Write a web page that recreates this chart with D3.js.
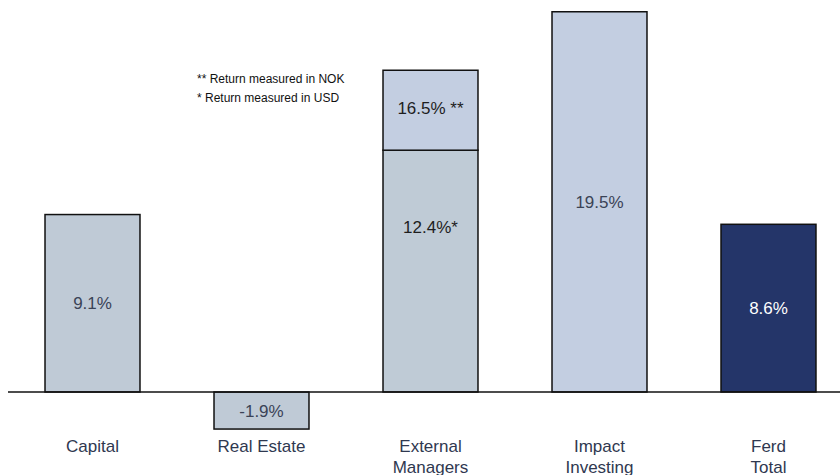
<!DOCTYPE html>
<html>
<head>
<meta charset="utf-8">
<script src="https://cdn.jsdelivr.net/npm/d3@7/dist/d3.min.js"></script>
<style>
html,body{margin:0;padding:0;background:#fff;}
svg{display:block;font-family:"Liberation Sans",Arial,sans-serif;}
</style>
</head>
<body>
<svg id="chart" width="840" height="475"></svg>
<script>
const categories = ["Capital", "Real Estate", "External Managers", "Impact Investing", "Ferd Total"];
const categoryLines = [["Capital"], ["Real Estate"], ["External", "Managers"], ["Impact", "Investing"], ["Ferd", "Total"]];
const returns = [9.1, -1.9, 12.4, 19.5, 8.6];
const valueLabels = ["9.1%", "-1.9%", "12.4%*", "19.5%", "8.6%"];
const nokExtra = { category: "External Managers", from: 12.4, to: 16.5, label: "16.5% **" };
const notes = ["** Return measured in NOK", "* Return measured in USD"];

const barFill = ["#bfcad6", "#bfcad6", "#bfcbd6", "#c3cee1", "#243569"];
const labelFill = ["#3a4356", "#3a4356", "#1e1e1e", "#3a4356", "#ffffff"];

const svg = d3.select("#chart");
const x = d3.scaleBand().domain(categories).range([8, 853]).paddingInner(0.438).paddingOuter(0.219);
const y = d3.scaleLinear().domain([0, 20]).range([392, 2]);

const data = categories.map((c, i) => ({ c, v: returns[i], label: valueLabels[i], fill: barFill[i], lf: labelFill[i] }));

// bars
svg.selectAll("rect.bar").data(data).enter().append("rect")
  .attr("class", "bar")
  .attr("x", d => x(d.c))
  .attr("width", x.bandwidth())
  .attr("y", d => y(Math.max(0, d.v)))
  .attr("height", d => Math.abs(y(d.v) - y(0)))
  .attr("fill", d => d.fill)
  .attr("stroke", "#111")
  .attr("stroke-width", 1.5);

// NOK segment on top of External Managers
svg.append("rect")
  .attr("x", x(nokExtra.category))
  .attr("width", x.bandwidth())
  .attr("y", y(nokExtra.to))
  .attr("height", y(nokExtra.from) - y(nokExtra.to))
  .attr("fill", "#c3cee1")
  .attr("stroke", "#111")
  .attr("stroke-width", 1.5);

// zero line
svg.append("line")
  .attr("x1", 8).attr("x2", 840)
  .attr("y1", y(0)).attr("y2", y(0))
  .attr("stroke", "#111").attr("stroke-width", 1.5);

// value labels
svg.selectAll("text.val").data(data).enter().append("text")
  .attr("class", "val")
  .attr("x", d => x(d.c) + x.bandwidth() / 2)
  .attr("y", d => d.c === "External Managers" ? y(d.v) + 83 : (y(d.v) + y(0)) / 2 + 6)
  .attr("text-anchor", "middle")
  .attr("font-size", 17)
  .attr("fill", d => d.lf)
  .text(d => d.label);

svg.append("text")
  .attr("x", x(nokExtra.category) + x.bandwidth() / 2)
  .attr("y", (y(nokExtra.from) + y(nokExtra.to)) / 2 + 4)
  .attr("text-anchor", "middle")
  .attr("font-size", 17)
  .attr("fill", "#1e1e1e")
  .text(nokExtra.label);

// category labels
const cat = svg.selectAll("text.cat").data(categories).enter().append("text")
  .attr("class", "cat")
  .attr("text-anchor", "middle")
  .attr("font-size", 17)
  .attr("fill", "#2f3850");
cat.each(function(c, i) {
  const t = d3.select(this);
  categoryLines[i].forEach((ln, j) => {
    t.append("tspan")
      .attr("x", x(c) + x.bandwidth() / 2)
      .attr("y", 452 + j * 21)
      .text(ln);
  });
});

// notes
svg.selectAll("text.note").data(notes).enter().append("text")
  .attr("class", "note")
  .attr("x", 197)
  .attr("y", (d, i) => 83 + i * 18.5)
  .attr("font-size", 12)
  .attr("fill", "#111")
  .text(d => d);
</script>
</body>
</html>
